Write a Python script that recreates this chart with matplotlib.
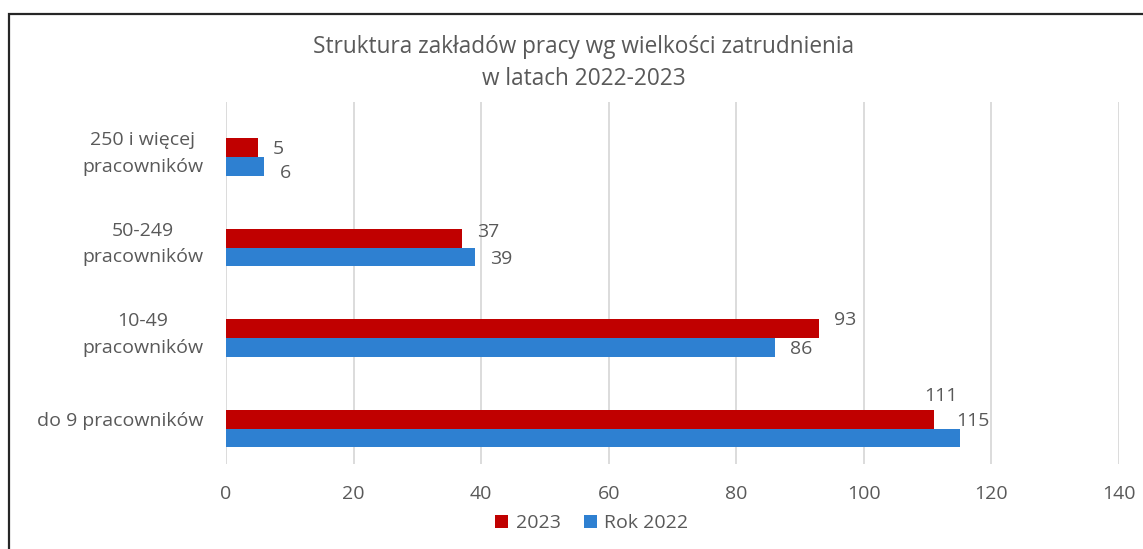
import matplotlib
matplotlib.use("Agg")
import matplotlib.pyplot as plt
import matplotlib.transforms as mtransforms
from matplotlib.patches import Rectangle
import numpy as np

plt.rcParams['font.family'] = ['Open Sans', 'DejaVu Sans']

categories = ["250 i więcej\npracowników", "50-249\npracowników", "10-49\npracowników", "do 9 pracowników"]
values_2023 = [5, 37, 93, 111]
values_2022 = [6, 39, 86, 115]
series_names = ["2023", "Rok 2022"]
x_ticks = [0, 20, 40, 60, 80, 100, 120, 140]

RED = "#C00000"
BLUE = "#2E80D1"
GREY = "#595959"
GRID = "#D9D9D9"

# label offsets in pixels (dx, dy) from bar end, like excel's placement
off_2023 = [(15, -1), (15, 6), (15, 9), (-10, 23)]
off_2022 = [(16, -7), (15, -2), (15, -2), (-3, 17)]

fig = plt.figure(figsize=(11.43, 5.49), dpi=100)
ax = fig.add_axes([226 / 1143, 1 - 464 / 549, (1119 - 226) / 1143, (464 - 102) / 549])

# chart frame
fig.patches.append(Rectangle((8.5 / 1143, -0.1), 1.2, 1 - 13.5 / 549 + 0.1, transform=fig.transFigure,
                             fill=False, edgecolor="#262626", linewidth=1.6))

y = np.arange(len(categories))
h = 0.205
ax.barh(y - h / 2, values_2023, height=h, color=RED, label=series_names[0], zorder=3)
ax.barh(y + h / 2, values_2022, height=h, color=BLUE, label=series_names[1], zorder=3)

for i in range(len(categories)):
    ax.annotate(str(values_2023[i]), (values_2023[i], y[i] - h / 2), xytext=off_2023[i],
                textcoords="offset pixels", ha="left", va="center", fontsize=14, color=GREY)
    ax.annotate(str(values_2022[i]), (values_2022[i], y[i] + h / 2), xytext=off_2022[i],
                textcoords="offset pixels", ha="left", va="center", fontsize=14, color=GREY)

ax.set_xlim(0, 140)
ax.set_ylim(3.392, -0.608)
ax.set_xticks(x_ticks)
ax.set_yticks(y)
ax.set_yticklabels(categories, fontsize=14, color=GREY, linespacing=1.62)
ax.tick_params(axis="x", labelsize=14, labelcolor=GREY, length=0, pad=15)
ax.tick_params(axis="y", length=0, pad=16.5)
shift = mtransforms.ScaledTranslation(0, 0.10, fig.dpi_scale_trans)
for lab in ax.get_yticklabels():
    lab.set_multialignment("center")
    lab.set_transform(lab.get_transform() + shift)
ax.grid(axis="x", color=GRID, linewidth=1.3, zorder=0)
for s in ax.spines.values():
    s.set_visible(False)

fig.text(584 / 1143, 1 - 63 / 549, "Struktura zakładów pracy wg wielkości zatrudnienia\nw latach 2022-2023",
         ha="center", va="center", fontsize=16.3, color=GREY, linespacing=1.4)

fig.legend(loc="center", bbox_to_anchor=(592 / 1143, 1 - 523 / 549), ncol=2, frameon=False,
           fontsize=14, labelcolor=GREY, handlelength=0.65, handleheight=0.65, handletextpad=0.4,
           columnspacing=1.2)

fig.savefig("out.png", dpi=100)
